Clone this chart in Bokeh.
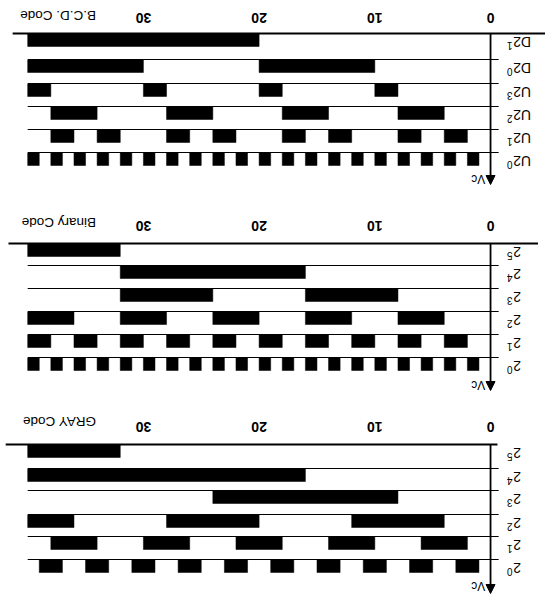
from bokeh.plotting import figure
from bokeh.models import Range1d, Arrow, NormalHead
from bokeh.core.properties import value
from bokeh.embed import file_html
from bokeh.resources import INLINE
import math

# ---------------- data (step number 0..40, intervals where the bit is 1) -------------
tick_values = [0, 10, 20, 30]
tick_labels = ["0", "10", "20", "30"]

# B.C.D. code
bcd_names = ["D2", "D2", "U2", "U2", "U2", "U2"]
bcd_exps = ["1", "0", "3", "2", "1", "0"]
bcd_D21 = [(20, 40)]
bcd_D20 = [(10, 20), (30, 40)]
bcd_U23 = [(8, 10), (18, 20), (28, 30), (38, 40)]
bcd_U22 = [(4, 8), (14, 18), (24, 28), (34, 38)]
bcd_U21 = [(2, 4), (6, 8), (12, 14), (16, 18), (22, 24), (26, 28), (32, 34), (36, 38)]
bcd_U20 = [(1, 2), (3, 4), (5, 6), (7, 8), (9, 10), (11, 12), (13, 14), (15, 16),
           (17, 18), (19, 20), (21, 22), (23, 24), (25, 26), (27, 28), (29, 30),
           (31, 32), (33, 34), (35, 36), (37, 38), (39, 40)]

# Binary code
bin_names = ["2", "2", "2", "2", "2", "2"]
bin_exps = ["5", "4", "3", "2", "1", "0"]
bin_b5 = [(32, 40)]
bin_b4 = [(16, 32)]
bin_b3 = [(8, 16), (24, 32)]
bin_b2 = [(4, 8), (12, 16), (20, 24), (28, 32), (36, 40)]
bin_b1 = [(2, 4), (6, 8), (10, 12), (14, 16), (18, 20), (22, 24), (26, 28), (30, 32),
          (34, 36), (38, 40)]
bin_b0 = [(1, 2), (3, 4), (5, 6), (7, 8), (9, 10), (11, 12), (13, 14), (15, 16),
          (17, 18), (19, 20), (21, 22), (23, 24), (25, 26), (27, 28), (29, 30),
          (31, 32), (33, 34), (35, 36), (37, 38), (39, 40)]

# GRAY code
gray_names = ["2", "2", "2", "2", "2", "2"]
gray_exps = ["5", "4", "3", "2", "1", "0"]
gray_g5 = [(32, 40)]
gray_g4 = [(16, 40)]
gray_g3 = [(8, 24)]
gray_g2 = [(4, 12), (20, 28), (36, 40)]
gray_g1 = [(2, 6), (10, 14), (18, 22), (26, 30), (34, 38)]
gray_g0 = [(1, 3), (5, 7), (9, 11), (13, 15), (17, 19), (21, 23), (25, 27), (29, 31),
           (33, 35), (37, 39)]

titles = ["B.C.D. Code", "Binary Code", "GRAY Code"]

# ---------------- layout (the whole picture is shown rotated by 180 degrees) ----------
panels = [
    dict(title=titles[0], names=bcd_names, exps=bcd_exps,
         rows=[bcd_D21, bcd_D20, bcd_U23, bcd_U22, bcd_U21, bcd_U20],
         row_y=[33, 59, 83, 106, 129, 152], label_y=17.5, title_y=15,
         top_x=(41.3, -4.8), tip=184, vc_y=178),
    dict(title=titles[1], names=bin_names, exps=bin_exps,
         rows=[bin_b5, bin_b4, bin_b3, bin_b2, bin_b1, bin_b0],
         row_y=[243, 265, 288, 311, 334, 357], label_y=225, title_y=222,
         top_x=(41.66, -4.1), tip=390, vc_y=384),
    dict(title=titles[2], names=gray_names, exps=gray_exps,
         rows=[gray_g5, gray_g4, gray_g3, gray_g2, gray_g1, gray_g0],
         row_y=[444, 468, 490, 514, 536, 559], label_y=426, title_y=421,
         top_x=(41.9, -0.6), tip=593, vc_y=585),
]

BAR_H = 12.5
ROT = math.pi

p = figure(width=545, height=598,
           x_range=Range1d(42.35, -4.75), y_range=Range1d(598, 0),
           output_backend="svg", toolbar_location=None,
           x_axis_location=None, y_axis_location=None, min_border=0)
p.grid.visible = False
p.outline_line_color = None
p.background_fill_color = "white"
p.border_fill_color = "white"

for pan in panels:
    ys = pan["row_y"]
    # bars
    L, R, T, B = [], [], [], []
    for intervals, y in zip(pan["rows"], ys):
        for a, b in intervals:
            L.append(a); R.append(b); T.append(y + 0.5); B.append(y + 0.5 + BAR_H)
    p.quad(left=L, right=R, top=T, bottom=B, fill_color="black", line_color="black",
           line_width=0.5)
    # row base lines
    p.segment(x0=[pan["top_x"][0]], y0=[ys[0]], x1=[pan["top_x"][1]], y1=[ys[0]],
              line_color="black", line_width=2)
    p.segment(x0=[40.0] * 5, y0=ys[1:], x1=[-0.7] * 5, y1=ys[1:],
              line_color="black", line_width=1.2)
    # vertical axis with arrow
    p.add_layout(Arrow(end=NormalHead(size=9, fill_color="black", line_color="black"),
                       x_start=0, y_start=ys[0], x_end=0, y_end=pan["tip"],
                       line_color="black", line_width=1.8))
    p.text(x=[0.45], y=[pan["vc_y"]], text=["Vc"], angle=ROT, text_align="left",
           text_baseline="middle", text_font=value("Liberation Sans"),
           text_font_size="12px", text_color="black")
    # tick labels
    p.text(x=tick_values, y=[pan["label_y"]] * len(tick_values), text=tick_labels,
           angle=ROT, text_align="center", text_baseline="middle",
           text_font=value("Liberation Sans"), text_font_style="bold",
           text_font_size="14px", text_color="black")
    # title
    p.text(x=[34.1], y=[pan["title_y"]], text=[pan["title"]], angle=ROT,
           text_align="left", text_baseline="middle",
           text_font=value("Liberation Sans"), text_font_size="13.5px",
           text_color="black")
    # row labels (name + superscript exponent)
    p.text(x=[-1.95] * 6, y=[y + 8 for y in ys], text=pan["names"], angle=ROT,
           text_align="right", text_baseline="middle",
           text_font=value("Liberation Sans"), text_font_size="14px",
           text_color="black")
    p.text(x=[-1.9] * 6, y=[y + 12 for y in ys], text=pan["exps"], angle=ROT,
           text_align="left", text_baseline="middle",
           text_font=value("Liberation Sans"), text_font_size="10px",
           text_color="black")

open("out.html", "w").write(file_html(p, INLINE))
